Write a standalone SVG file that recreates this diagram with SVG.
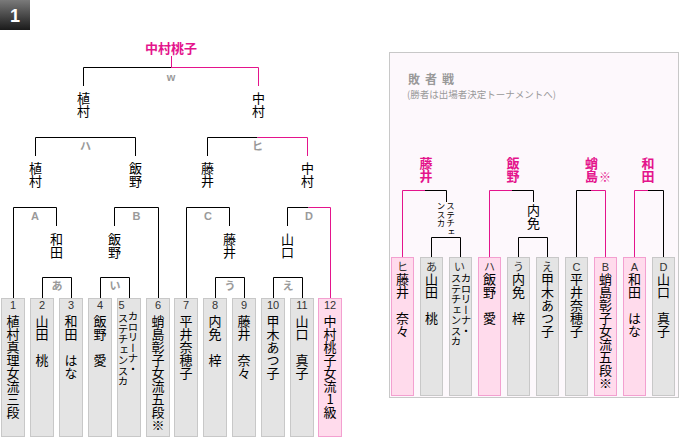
<svg xmlns="http://www.w3.org/2000/svg" width="680" height="440" viewBox="0 0 680 440">
<defs>
<linearGradient id="badge" x1="0" y1="0" x2="0" y2="1">
<stop offset="0" stop-color="#7a7a7a"/>
<stop offset="1" stop-color="#1a1a1a"/>
</linearGradient>
</defs>
<style>
.ln{fill:none;stroke:#000;stroke-width:1}
.pk{fill:none;stroke:#e4148c;stroke-width:1}
.bx{fill:#e4e4e4;stroke:#c8c8c8;stroke-width:1}
.bxp{fill:#ffdbec;stroke:#f3a0d0;stroke-width:1}
.v{writing-mode:vertical-rl;text-orientation:upright;font-family:"Noto Sans CJK JP","Noto Sans",sans-serif;font-size:13px;fill:#000}
.vs{writing-mode:vertical-rl;text-orientation:upright;font-family:"Noto Sans CJK JP","Noto Sans",sans-serif;font-size:10.5px;fill:#000}
.vt{writing-mode:vertical-rl;text-orientation:upright;font-family:"Noto Sans CJK JP","Noto Sans",sans-serif;font-size:8.5px;fill:#000}
.vw{writing-mode:vertical-rl;text-orientation:upright;font-family:"Noto Sans CJK JP","Noto Sans",sans-serif;font-size:13px;font-weight:bold;fill:#e4148c}
.lb{font-family:"Liberation Sans","Noto Sans CJK JP",sans-serif;font-size:11px;font-weight:bold;fill:#9a9a9a;text-anchor:middle}
.no{font-family:"Liberation Sans","Noto Sans CJK JP",sans-serif;font-size:11px;fill:#333;text-anchor:middle}
.champ{font-family:"Noto Sans CJK JP",sans-serif;font-size:13px;font-weight:bold;fill:#e4148c;text-anchor:middle}
</style>

<g id="badge1">
<rect x="0" y="0" width="30" height="30" fill="url(#badge)"/>
<text x="15" y="22" font-family="Liberation Sans,sans-serif" font-size="18" font-weight="bold" fill="#fff" text-anchor="middle">1</text>
</g>

<g id="repechage">
<rect x="389.5" y="52.5" width="289" height="345" fill="#fdf8fc" stroke="#c8c8c8"/>
<text x="408" y="84" font-family="Noto Sans CJK JP,sans-serif" font-size="12" font-weight="bold" fill="#999" letter-spacing="5">敗者戦</text>
<text x="407" y="98" font-family="Noto Sans CJK JP,sans-serif" font-size="9.5" fill="#999">(勝者は出場者決定トーナメントへ)</text>
</g>

<g id="champion"><text class="champ" x="171" y="53">中村桃子</text></g>

<g id="connectors">
<path class="ln" d="M42.5 298V277.5H71.5V298"/>
<path class="ln" d="M100.5 298V277.5H129.5V298"/>
<path class="ln" d="M215.5 298V277.5H244.5V298"/>
<path class="ln" d="M273.5 298V277.5H302.5V298"/>
<path class="ln" d="M13.5 298V207.5H56.5V226"/>
<path class="ln" d="M114.5 226V207.5H158.5V298"/>
<path class="ln" d="M186.5 298V207.5H229.5V226"/>
<path class="ln" d="M287.5 226V207.5H308.5"/>
<path class="pk" d="M308.5 207.5H330.5V298"/>
<path class="ln" d="M35.5 156V137.5H135.5V156"/>
<path class="ln" d="M207.5 156V137.5H257.5"/>
<path class="pk" d="M257.5 137.5H307.5V156"/>
<path class="ln" d="M83.5 86V67.5H171"/>
<path class="pk" d="M171 67.5H258.5V86M171.5 56V67.5"/>
<path class="pk" d="M402.5 257V190.5H425"/>
<path class="ln" d="M425 190.5H446.5V202"/>
<path class="ln" d="M431.5 257V237.5H460.5V257"/>
<path class="pk" d="M489.5 257V190.5H512"/>
<path class="ln" d="M512 190.5H533.5V202"/>
<path class="ln" d="M518.5 257V237.5H547.5V257"/>
<path class="ln" d="M576.5 257V190.5H591"/>
<path class="pk" d="M591 190.5H605.5V257"/>
<path class="pk" d="M634.5 257V190.5H648"/>
<path class="ln" d="M648 190.5H663.5V257"/>
</g>

<g id="round-labels">
<text class="lb" x="171" y="81" font-size="10">w</text>
<text class="lb" x="85.5" y="150">ハ</text>
<text class="lb" x="257.5" y="150">ヒ</text>
<text class="lb" x="35" y="220">A</text>
<text class="lb" x="136.5" y="220">B</text>
<text class="lb" x="208" y="220">C</text>
<text class="lb" x="309" y="220">D</text>
<text class="lb" x="57" y="290">あ</text>
<text class="lb" x="115" y="290">い</text>
<text class="lb" x="230" y="290">う</text>
<text class="lb" x="288" y="290">え</text>
</g>

<g id="winners">
<text class="v" x="83.5" y="92">植村</text>
<text class="v" x="258.5" y="92">中村</text>
<text class="v" x="35.5" y="162">植村</text>
<text class="v" x="135.5" y="162">飯野</text>
<text class="v" x="207.5" y="162">藤井</text>
<text class="v" x="307.5" y="162">中村</text>
<text class="v" x="56.5" y="233">和田</text>
<text class="v" x="114.5" y="233">飯野</text>
<text class="v" x="229.5" y="233">藤井</text>
<text class="v" x="287.5" y="233">山口</text>
</g>

<g id="p1"><rect class="bx" x="1.5" y="298.5" width="23" height="138"/><text class="no" x="13" y="309">1</text><text class="v" x="13" y="315">植村真理女流三段</text></g>
<g id="p2"><rect class="bx" x="30.5" y="298.5" width="23" height="138"/><text class="no" x="42" y="309">2</text><text class="v" x="42" y="315">山田　桃</text></g>
<g id="p3"><rect class="bx" x="59.5" y="298.5" width="23" height="138"/><text class="no" x="71" y="309">3</text><text class="v" x="71" y="315">和田　はな</text></g>
<g id="p4"><rect class="bx" x="88.5" y="298.5" width="23" height="138"/><text class="no" x="100" y="309">4</text><text class="v" x="100" y="315">飯野　愛</text></g>
<g id="p5"><rect class="bx" x="117.5" y="298.5" width="23" height="138"/><text class="no" x="121.5" y="309">5</text><text class="vs" x="133" y="311">カロリーナ・</text><text class="vs" x="123" y="313">ステチェンスカ</text></g>
<g id="p6"><rect class="bx" x="146.5" y="298.5" width="23" height="138"/><text class="no" x="158" y="309">6</text><text class="v" x="158" y="315">蛸島彰子女流五段※</text></g>
<g id="p7"><rect class="bx" x="174.5" y="298.5" width="23" height="138"/><text class="no" x="186" y="309">7</text><text class="v" x="186" y="315">平井奈穂子</text></g>
<g id="p8"><rect class="bx" x="203.5" y="298.5" width="23" height="138"/><text class="no" x="215" y="309">8</text><text class="v" x="215" y="315">内免　梓</text></g>
<g id="p9"><rect class="bx" x="232.5" y="298.5" width="23" height="138"/><text class="no" x="244" y="309">9</text><text class="v" x="244" y="315">藤井　奈々</text></g>
<g id="p10"><rect class="bx" x="261.5" y="298.5" width="23" height="138"/><text class="no" x="273" y="309">10</text><text class="v" x="273" y="315">甲木あつ子</text></g>
<g id="p11"><rect class="bx" x="290.5" y="298.5" width="23" height="138"/><text class="no" x="302" y="309">11</text><text class="v" x="302" y="315">山口　真子</text></g>
<g id="p12"><rect class="bxp" x="318.5" y="298.5" width="23" height="138"/><text class="no" x="330" y="309">12</text><text class="v" x="330" y="315">中村桃子女流1級</text></g>

<g id="rw">
<text class="vw" x="426" y="157">藤井</text>
<text class="vw" x="513" y="157">飯野</text>
<text class="vw" x="648" y="157">和田</text>
<text class="vw" x="591.5" y="157">蛸島</text>
<text x="599" y="182" font-family="Noto Sans CJK JP,sans-serif" font-size="12" fill="#e4148c">※</text>
<text class="vt" x="450.5" y="202">ステチェ</text>
<text class="vt" x="441" y="202">ンスカ</text>
<text class="v" x="533.5" y="204">内免</text>
</g>

<g id="r1"><rect class="bxp" x="391.5" y="257.5" width="22" height="138"/><text class="no" x="402.5" y="271">ヒ</text><text class="v" x="402.5" y="273">藤井　奈々</text></g>
<g id="r2"><rect class="bx" x="420.5" y="257.5" width="22" height="138"/><text class="no" x="431.5" y="271">あ</text><text class="v" x="431.5" y="273">山田　桃</text></g>
<g id="r3"><rect class="bx" x="449.5" y="257.5" width="22" height="138"/><text class="no" x="459.5" y="271">い</text><text class="vs" x="466" y="273">カロリーナ・</text><text class="vs" x="456" y="273">ステチェンスカ</text></g>
<g id="r4"><rect class="bxp" x="478.5" y="257.5" width="22" height="138"/><text class="no" x="489.5" y="271">ハ</text><text class="v" x="489.5" y="273">飯野　愛</text></g>
<g id="r5"><rect class="bx" x="507.5" y="257.5" width="22" height="138"/><text class="no" x="518.5" y="271">う</text><text class="v" x="518.5" y="273">内免　梓</text></g>
<g id="r6"><rect class="bx" x="536.5" y="257.5" width="22" height="138"/><text class="no" x="547.5" y="271">え</text><text class="v" x="547.5" y="273">甲木あつ子</text></g>
<g id="r7"><rect class="bx" x="565.5" y="257.5" width="22" height="138"/><text class="no" x="576.5" y="271">C</text><text class="v" x="576.5" y="273">平井奈穂子</text></g>
<g id="r8"><rect class="bxp" x="594.5" y="257.5" width="22" height="138"/><text class="no" x="605.5" y="271">B</text><text class="v" x="605.5" y="273">蛸島彰子女流五段※</text></g>
<g id="r9"><rect class="bxp" x="623.5" y="257.5" width="22" height="138"/><text class="no" x="634.5" y="271">A</text><text class="v" x="634.5" y="273">和田　はな</text></g>
<g id="r10"><rect class="bx" x="652.5" y="257.5" width="22" height="138"/><text class="no" x="663.5" y="271">D</text><text class="v" x="663.5" y="273">山口　真子</text></g>
</svg>
